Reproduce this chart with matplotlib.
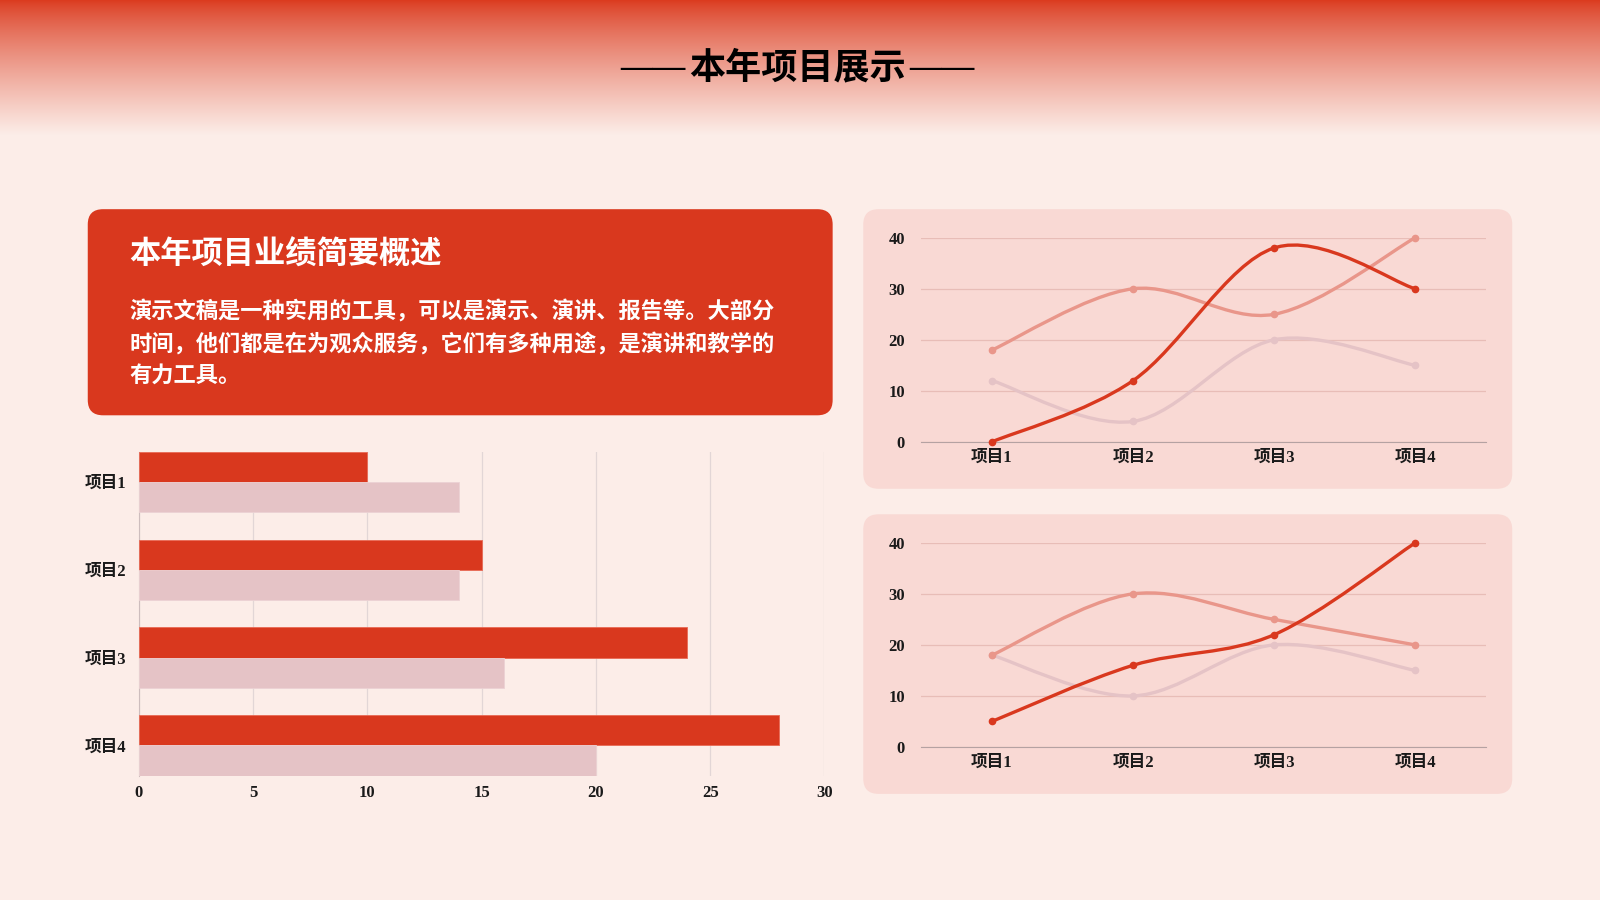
import numpy as np
import matplotlib
matplotlib.use("Agg")
import matplotlib.pyplot as plt
from matplotlib.patches import FancyBboxPatch, PathPatch
from matplotlib.path import Path

# -------- DATA --------
categories = ["项目1", "项目2", "项目3", "项目4"]

bar_red = [10, 15, 24, 28]
bar_pink = [14, 14, 16, 20]

top_red = [0, 12, 38, 30]
top_salmon = [18, 30, 25, 40]
top_pink = [12, 4, 20, 15]

bottom_red = [5, 16, 22, 40]
bottom_salmon = [18, 30, 25, 20]
bottom_pink = [18, 10, 20, 15]

page_title = "本年项目展示"
title_dash = "——"
box_title = "本年项目业绩简要概述"
box_lines = [
    "演示文稿是一种实用的工具，可以是演示、演讲、报告等。大部分",
    "时间，他们都是在为观众服务，它们有多种用途，是演讲和教学的",
    "有力工具。",
]

# -------- STYLE --------
BG = "#fcede8"
PANEL = "#f9d9d4"
RED = "#d9381e"
SALMON = "#e9968a"
PINK = "#e5c3c6"
CJK = ["Noto Sans CJK SC", "DejaVu Sans"]
TICK_FONT = ["Liberation Serif", "Noto Sans CJK SC"]

plt.rcParams["font.family"] = CJK

W, H = 1568, 882  # layout frame in reference pixels


def frac(x0, y0, x1, y1):
    # reference pixel box -> figure fraction rect
    return [x0 / W, 1 - y1 / H, (x1 - x0) / W, (y1 - y0) / H]


fig = plt.figure(figsize=(16, 9), dpi=100, facecolor=BG)

# background layer with pixel coordinates
bg = fig.add_axes([0, 0, 1, 1], zorder=0)
bg.axis("off")

# top gradient
top_rgb = np.array(matplotlib.colors.to_rgb("#db3a1e"))
bot_rgb = np.array(matplotlib.colors.to_rgb(BG))
t = np.linspace(0, 1, 256) ** 0.8
grad = top_rgb[None, :] * (1 - t[:, None]) + bot_rgb[None, :] * t[:, None]
bg.imshow(grad[:, None, :], extent=[0, W, 132, 0], aspect="auto", interpolation="bicubic")
bg.set_xlim(0, W)
bg.set_ylim(H, 0)

bg.text(782, 67, page_title, ha="center", va="center", fontsize=26,
        fontweight="bold", color="black")
bg.text(672, 67, title_dash, ha="right", va="center", fontsize=23.5,
        color="black", family="Liberation Serif", fontweight="bold")
bg.text(891, 67, title_dash, ha="left", va="center", fontsize=23.5,
        color="black", family="Liberation Serif", fontweight="bold")

# panels
def panel(x0, y0, x1, y1, color, r=15):
    bg.add_patch(FancyBboxPatch((x0 + r, y0 + r), x1 - x0 - 2 * r, y1 - y0 - 2 * r,
                                boxstyle=f"round,pad={r},rounding_size={r}",
                                fc=color, ec="none"))

panel(86, 205, 816, 407, RED)
panel(846, 205, 1482, 479, PANEL)
panel(846, 504, 1482, 778, PANEL)

bg.text(127, 250, box_title, ha="left", va="center", fontsize=22.5,
        fontweight="bold", color="white")
bg.text(127, 337, "\n".join(box_lines), ha="left", va="center", fontsize=16,
        fontweight="bold", color="white", linespacing=1.52)

# -------- BAR CHART --------
ax = fig.add_axes(frac(136, 443, 808, 760), zorder=2)
ax.set_facecolor("none")
pos = np.arange(len(categories))
h = 0.344
ax.barh(pos - h / 2, bar_red, height=h, color=RED, edgecolor="#e86a55", linewidth=0.6, zorder=3)
ax.barh(pos + h / 2, bar_pink, height=h, color=PINK, edgecolor="#ecd2d4", linewidth=0.6, zorder=3)
ax.set_ylim(len(categories) - 1 + h, -h)
ax.set_xlim(0, 30)
ax.set_xticks(range(0, 31, 5))
ax.set_yticks(pos)
ax.set_yticklabels(categories)
ax.grid(axis="x", color="#e2d6d6", linewidth=0.9, zorder=0)
for s in ["top", "right", "bottom"]:
    ax.spines[s].set_visible(False)
ax.spines["left"].set_color("#cdbdbd")
ax.tick_params(length=0, labelsize=12, colors="#1a1a1a")
ax.tick_params(axis="x", pad=7)
ax.tick_params(axis="y", pad=9)
for lab in ax.get_xticklabels() + ax.get_yticklabels():
    lab.set_family(TICK_FONT)
    lab.set_fontweight("bold")


# -------- LINE CHARTS --------
def smooth_path(xs, ys):
    pts = np.column_stack([xs, ys]).astype(float)
    n = len(pts)
    verts = [pts[0]]
    codes = [Path.MOVETO]
    for i in range(n - 1):
        p0 = pts[max(i - 1, 0)]
        p1 = pts[i]
        p2 = pts[i + 1]
        p3 = pts[min(i + 2, n - 1)]
        verts += [p1 + (p2 - p0) / 6, p2 - (p3 - p1) / 6, p2]
        codes += [Path.CURVE4] * 3
    return Path(verts, codes)


def line_chart(rect, series):
    a = fig.add_axes(rect, zorder=2)
    a.set_facecolor("none")
    x = np.arange(len(categories))
    for vals, color, z in series:
        a.add_patch(PathPatch(smooth_path(x, vals), fill=False, ec=color, lw=2.4,
                              zorder=z, clip_on=False, capstyle="round"))
        a.plot(x, vals, "o", color=color, ms=4.5, zorder=z, clip_on=False)
    a.set_xlim(-0.5, 3.5)
    a.set_ylim(0, 40)
    a.set_yticks(range(0, 41, 10))
    a.set_xticks(x)
    a.set_xticklabels(categories)
    a.grid(axis="y", color="#e8bdb7", linewidth=0.9, zorder=0)
    for s in ["top", "right", "left"]:
        a.spines[s].set_visible(False)
    a.spines["bottom"].set_color("#b5a2a2")
    a.tick_params(length=0, labelsize=12, colors="#1a1a1a")
    a.tick_params(axis="x", pad=6)
    a.tick_params(axis="y", pad=12)
    for lab in a.get_xticklabels() + a.get_yticklabels():
        lab.set_family(TICK_FONT)
        lab.set_fontweight("bold")
    return a


line_chart(frac(903, 233, 1456, 433),
           [(top_pink, PINK, 3), (top_salmon, SALMON, 4), (top_red, RED, 5)])
line_chart(frac(903, 532, 1456, 732),
           [(bottom_pink, PINK, 3), (bottom_salmon, SALMON, 4), (bottom_red, RED, 5)])

fig.savefig("out.png", dpi=100, facecolor=BG)
